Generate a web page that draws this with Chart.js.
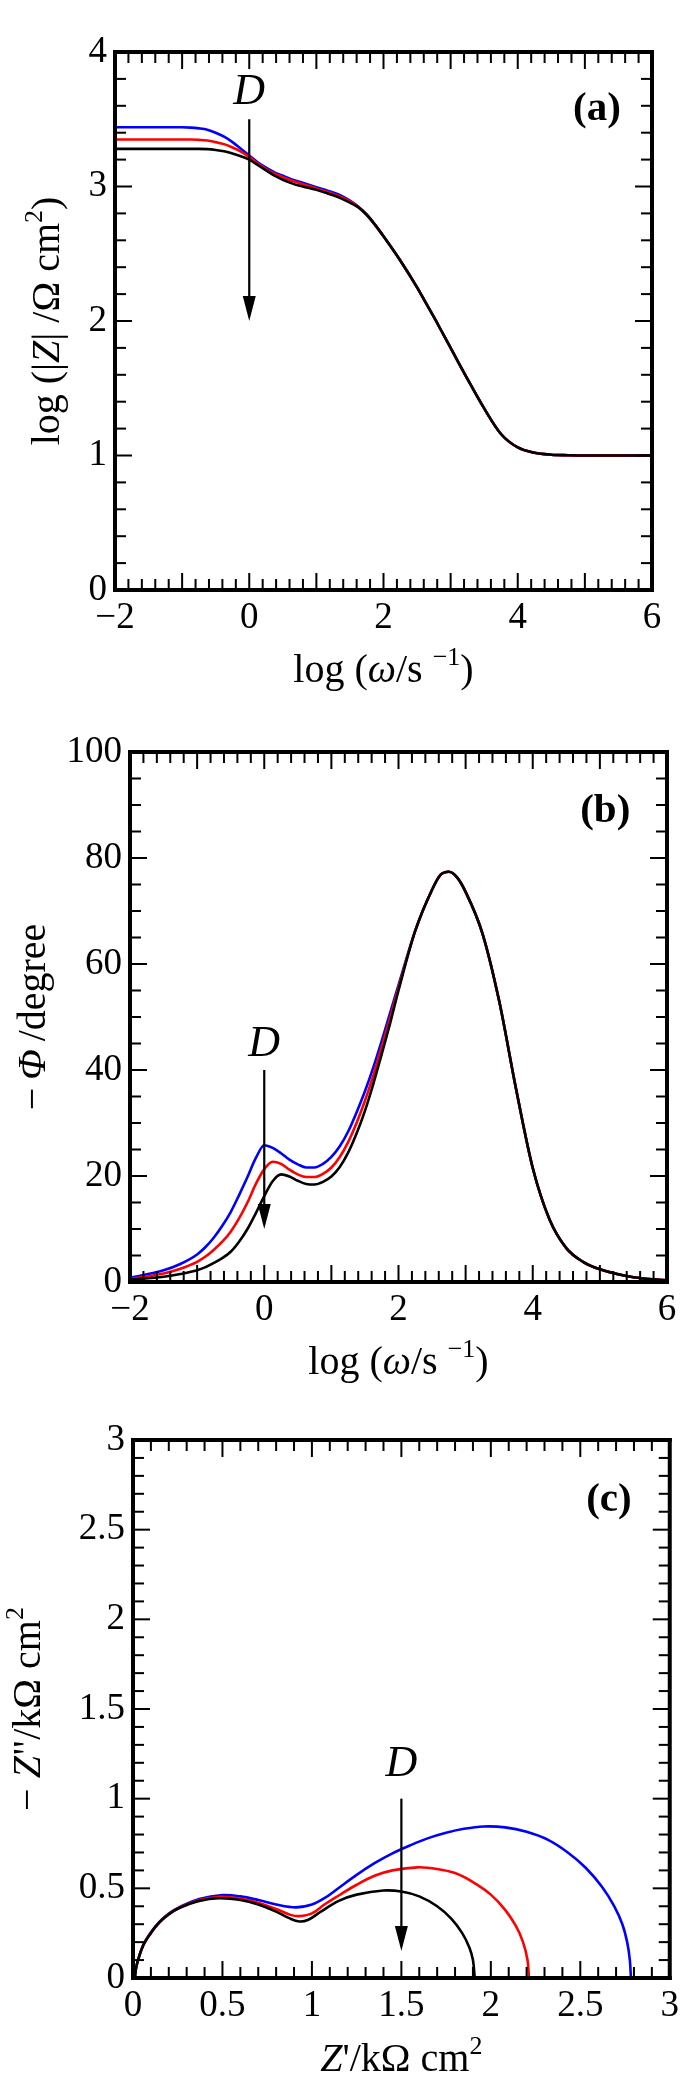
<!DOCTYPE html>
<html>
<head>
<meta charset="utf-8">
<script src="https://cdn.jsdelivr.net/npm/chart.js@4.4.0/dist/chart.umd.min.js"></script>
<style>
html, body { margin: 0; padding: 0; background: #fff; }
#wrap { position: relative; width: 685px; height: 2085px; }
canvas { position: absolute; left: 0; }
</style>
</head>
<body>
<div id="wrap">
<canvas id="chartA" width="685" height="700" style="top:0px"></canvas>
<canvas id="chartB" width="685" height="690" style="top:700px"></canvas>
<canvas id="chartC" width="685" height="695" style="top:1390px"></canvas>
</div>
<script>
// log(omega / s^-1) sampling used by the Bode plots (a) and (b)
const logW = [-2, -1.5, -1.25, -1, -0.875, -0.75, -0.625, -0.5, -0.375, -0.25, -0.125, 0,
              0.125, 0.25, 0.375, 0.5, 0.625, 0.75, 0.875, 1, 1.125, 1.25, 1.375, 1.5, 1.625, 1.75, 1.875,
              2, 2.25, 2.5, 2.625, 2.75, 2.875, 3, 3.25, 3.5, 3.75, 4, 4.25, 4.5, 4.75, 5, 5.5, 6];

// (a) log |Z|
const logZBlue  = [3.44, 3.44, 3.44, 3.44, 3.438, 3.432, 3.422, 3.40, 3.37, 3.33, 3.28, 3.23,
                   3.18, 3.14, 3.105, 3.08, 3.055, 3.035, 3.015, 2.995, 2.975, 2.955, 2.93, 2.895, 2.85, 2.79, 2.715,
                   2.63, 2.45, 2.25, 2.14, 2.03, 1.915, 1.80, 1.57, 1.35, 1.16, 1.06, 1.02, 1.006, 1.002, 1.0, 1.0, 1.0];
const logZRed   = [3.35, 3.35, 3.35, 3.35, 3.35, 3.347, 3.342, 3.33, 3.315, 3.29, 3.26, 3.22,
                   3.17, 3.13, 3.095, 3.07, 3.045, 3.025, 3.005, 2.985, 2.965, 2.945, 2.92, 2.89, 2.85, 2.79, 2.715,
                   2.63, 2.45, 2.25, 2.14, 2.03, 1.915, 1.80, 1.57, 1.35, 1.16, 1.06, 1.02, 1.006, 1.002, 1.0, 1.0, 1.0];
const logZBlack = [3.28, 3.28, 3.28, 3.28, 3.28, 3.28, 3.278, 3.272, 3.262, 3.245, 3.225, 3.20,
                   3.16, 3.12, 3.08, 3.05, 3.025, 3.005, 2.99, 2.975, 2.955, 2.935, 2.91, 2.88, 2.845, 2.79, 2.715,
                   2.63, 2.45, 2.25, 2.14, 2.03, 1.915, 1.80, 1.57, 1.35, 1.16, 1.06, 1.02, 1.006, 1.002, 1.0, 1.0, 1.0];

// (b) -phase, degrees
const phaseBlue  = [0.8, 2.2, 3.4, 5.2, 6.6, 8.4, 10.6, 13.2, 16.4, 19.8, 23.4, 25.8,
                    25.3, 24.3, 23.1, 22.2, 21.6, 21.6, 22.3, 23.6, 25.6, 28.4, 32.0, 36.0, 40.5, 45.5, 50.8,
                    56.0, 66.3, 74.0, 76.8, 77.4, 76.3, 73.6, 65.8, 53.0, 36.5, 21.5, 11.8, 6.4, 3.8, 2.4, 0.9, 0.3];
const phaseRed   = [0.6, 1.6, 2.5, 3.8, 4.8, 6.1, 7.6, 9.5, 12.0, 15.0, 18.5, 21.3,
                    22.7, 22.3, 21.2, 20.3, 19.8, 19.8, 20.4, 21.6, 23.6, 26.4, 30.0, 34.2, 39.0, 44.3, 49.8,
                    55.5, 66.3, 74.0, 76.8, 77.4, 76.3, 73.6, 65.8, 53.0, 36.5, 21.5, 11.8, 6.4, 3.8, 2.4, 0.9, 0.3];
const phaseBlack = [0.4, 1.0, 1.5, 2.2, 2.8, 3.6, 4.5, 5.7, 7.6, 10.0, 13.0, 16.2,
                    19.0, 20.3, 19.9, 19.1, 18.5, 18.4, 18.9, 19.9, 21.7, 24.4, 28.0, 32.3, 37.4, 43.0, 48.8,
                    55.0, 66.3, 74.0, 76.8, 77.4, 76.3, 73.6, 65.8, 53.0, 36.5, 21.5, 11.8, 6.4, 3.8, 2.4, 0.9, 0.3];

// (c) Nyquist, kOhm cm2
const zReBlue  = [0.01, 0.02, 0.056, 0.1, 0.15, 0.2, 0.26, 0.37, 0.5, 0.6, 0.7, 0.8, 0.91, 1.0, 1.07, 1.14,
                  1.25, 1.35, 1.45, 1.55, 1.65, 1.75, 1.85, 1.96, 2.08, 2.2, 2.32, 2.43, 2.53, 2.62, 2.69,
                  2.735, 2.762, 2.777, 2.783];
const zImBlue  = [0, 0.07, 0.18, 0.255, 0.315, 0.36, 0.395, 0.44, 0.462, 0.455, 0.435, 0.41, 0.394, 0.41, 0.445, 0.495,
                  0.575, 0.64, 0.695, 0.74, 0.78, 0.81, 0.832, 0.845, 0.84, 0.815, 0.77, 0.70, 0.615, 0.51, 0.40,
                  0.30, 0.20, 0.10, 0];
const zReRed   = [0.01, 0.02, 0.056, 0.1, 0.15, 0.2, 0.26, 0.37, 0.48, 0.6, 0.7, 0.8, 0.88, 0.93, 1.0, 1.07,
                  1.15, 1.25, 1.35, 1.45, 1.59, 1.7, 1.8, 1.9, 2.0, 2.08, 2.14, 2.18, 2.205, 2.213];
const zImRed   = [0, 0.07, 0.18, 0.252, 0.312, 0.357, 0.392, 0.435, 0.452, 0.442, 0.42, 0.385, 0.352, 0.345, 0.36, 0.41,
                  0.46, 0.52, 0.57, 0.60, 0.617, 0.608, 0.585, 0.535, 0.465, 0.38, 0.29, 0.2, 0.1, 0];
const zReBlack = [0.01, 0.02, 0.056, 0.1, 0.147, 0.2, 0.258, 0.37, 0.48, 0.6, 0.7, 0.8, 0.87, 0.93, 0.98, 1.05,
                  1.15, 1.25, 1.4, 1.5, 1.6, 1.7, 1.78, 1.84, 1.88, 1.9, 1.91];
const zImBlack = [0, 0.07, 0.18, 0.25, 0.31, 0.355, 0.39, 0.43, 0.445, 0.435, 0.41, 0.37, 0.335, 0.315, 0.325, 0.37,
                  0.43, 0.465, 0.488, 0.482, 0.455, 0.40, 0.33, 0.25, 0.17, 0.1, 0];

// tick labels
const bodeXTicks = [-2, 0, 2, 4, 6];
const logZTicks = [0, 1, 2, 3, 4];
const phaseTicks = [0, 20, 40, 60, 80, 100];
const nyqTicks = [0, 0.5, 1, 1.5, 2, 2.5, 3];

const SERIF = '"Liberation Serif", "Times New Roman", serif';
const COLORS = { blue: '#0000ff', red: '#ff0000', black: '#000000' };

function pts(xs, ys) {
  return xs.map((x, i) => ({ x: x, y: ys[i] }));
}
function fmt(v) {
  return v < 0 ? '\u2212' + Math.abs(v) : String(v);
}

// per-panel decoration (titles, minor ticks, arrow, letters)
const panels = {
  chartA: {
    xr: [-2, 6], yr: [0, 4], xMinor: 0.2, xMajor: 1, yMinor: 0.2, yMajor: 1,
    xTitle: [{ t: 'log (' }, { t: 'ω', i: 1 }, { t: '/s ' }, { t: '\u22121', sup: 1 }, { t: ')' }],
    yTitle: [{ t: 'log (|' }, { t: 'Z', i: 1 }, { t: '| /Ω cm' }, { t: '2', sup: 1 }, { t: ')' }],
    xTitleDy: 82, yTitleX: 49,
    arrow: { x: 0, top: 3.5, tip: 2.0 }, dPos: { x: 0, y: 3.70 },
    tag: '(a)', tagPos: { x: 5.18, y: 3.57 }
  },
  chartB: {
    xr: [-2, 6], yr: [0, 100], xMinor: 0.2, xMajor: 1, yMinor: 5, yMajor: 20,
    xTitle: [{ t: 'log (' }, { t: 'ω', i: 1 }, { t: '/s ' }, { t: '\u22121', sup: 1 }, { t: ')' }],
    yTitle: [{ t: '\u2212' }, { t: '\u2009Φ\u2009', i: 1 }, { t: '/degree' }],
    xTitleDy: 82, yTitleX: 35,
    arrow: { x: 0, top: 40, tip: 10 }, dPos: { x: 0, y: 44.9 },
    tag: '(b)', tagPos: { x: 5.08, y: 88.7 }
  },
  chartC: {
    xr: [0, 3], yr: [0, 3], xMinor: 0.1, xMajor: 0.5, yMinor: 0.1, yMajor: 0.5,
    xTitle: [{ t: 'Z', i: 1 }, { t: '\'/kΩ cm' }, { t: '2', sup: 1 }],
    yTitle: [{ t: '\u2212 ' }, { t: 'Z', i: 1 }, { t: '"/kΩ cm' }, { t: '2', sup: 1 }],
    xTitleDy: 83, yTitleX: 30,
    arrow: { x: 1.5, top: 1.0, tip: 0.15 }, dPos: { x: 1.5, y: 1.19 },
    tag: '(c)', tagPos: { x: 2.66, y: 2.665 }
  }
};

function fontFor(s, size) {
  const sz = s.sup ? Math.round(size * 0.65) : size;
  return (s.i ? 'italic ' : '') + (s.b ? 'bold ' : '') + sz + 'px ' + SERIF;
}

function drawRich(ctx, segs, cx, cy, size, vertical) {
  ctx.save();
  ctx.translate(cx, cy);
  if (vertical) ctx.rotate(-Math.PI / 2);
  let w = 0;
  segs.forEach(s => { ctx.font = fontFor(s, size); w += ctx.measureText(s.t).width; });
  let x = -w / 2;
  ctx.textAlign = 'left';
  ctx.textBaseline = 'alphabetic';
  ctx.fillStyle = '#000';
  segs.forEach(s => {
    ctx.font = fontFor(s, size);
    const dy = s.sup ? -size * 0.42 : 0;
    ctx.fillText(s.t, x, size * 0.25 + dy);
    x += ctx.measureText(s.t).width;
  });
  ctx.restore();
}

function isMajor(v, major) {
  const r = v / major;
  return Math.abs(r - Math.round(r)) < 1e-6;
}

const frameTicks = {
  id: 'frameTicks',
  afterDraw(chart) {
    const p = panels[chart.canvas.id];
    const ctx = chart.ctx, a = chart.chartArea;
    const sx = chart.scales.x, sy = chart.scales.y;
    const L = a.left, R = a.right, T = a.top, B = a.bottom;
    ctx.save();
    ctx.fillStyle = '#000';

    // inward ticks on all four sides
    const nx = Math.round((p.xr[1] - p.xr[0]) / p.xMinor);
    for (let i = 0; i <= nx; i++) {
      const v = p.xr[0] + i * p.xMinor;
      const len = isMajor(v, p.xMajor) ? 17 : 11;
      const px = sx.getPixelForValue(v);
      ctx.fillRect(px - 1, B - len, 2, len);
      ctx.fillRect(px - 1, T, 2, len);
    }
    const ny = Math.round((p.yr[1] - p.yr[0]) / p.yMinor);
    for (let i = 0; i <= ny; i++) {
      const v = p.yr[0] + i * p.yMinor;
      const len = isMajor(v, p.yMajor) ? 17 : 11;
      const py = sy.getPixelForValue(v);
      ctx.fillRect(L, py - 1, len, 2);
      ctx.fillRect(R - len, py - 1, len, 2);
    }

    // frame
    ctx.fillRect(L - 2, T - 2, R - L + 4, 4);
    ctx.fillRect(L - 2, B - 2, R - L + 4, 4);
    ctx.fillRect(L - 2, T - 2, 4, B - T + 4);
    ctx.fillRect(R - 2, T - 2, 4, B - T + 4);

    drawRich(ctx, p.xTitle, (L + R) / 2, B + p.xTitleDy, 40, false);
    drawRich(ctx, p.yTitle, p.yTitleX, (T + B) / 2, 40, true);

    // arrow marking increasing D
    const ax = sx.getPixelForValue(p.arrow.x);
    const y1 = sy.getPixelForValue(p.arrow.top);
    const y2 = sy.getPixelForValue(p.arrow.tip);
    ctx.fillRect(ax - 1.1, y1, 2.2, y2 - 20 - y1);
    ctx.beginPath();
    ctx.moveTo(ax, y2);
    ctx.lineTo(ax - 6.5, y2 - 25);
    ctx.lineTo(ax + 6.5, y2 - 25);
    ctx.closePath();
    ctx.fill();

    ctx.textAlign = 'center';
    ctx.textBaseline = 'middle';
    ctx.font = 'italic 44px ' + SERIF;
    ctx.fillText('D', sx.getPixelForValue(p.dPos.x), sy.getPixelForValue(p.dPos.y));
    ctx.font = 'bold 41px ' + SERIF;
    ctx.fillText(p.tag, sx.getPixelForValue(p.tagPos.x), sy.getPixelForValue(p.tagPos.y));
    ctx.restore();
  }
};

function lineSet(data, color, order, smooth) {
  return {
    data: data, borderColor: color, backgroundColor: color, borderWidth: 2.6,
    pointRadius: 0, fill: false, order: order,
    cubicInterpolationMode: smooth ? 'monotone' : 'default', tension: 0.35
  };
}

function makeChart(id, datasets, xTicks, yTicks, pad, xHeight, yWidth) {
  const p = panels[id];
  const tickFont = { family: SERIF, size: 37 };
  return new Chart(document.getElementById(id), {
    type: 'line',
    data: { datasets: datasets },
    options: {
      responsive: false,
      animation: false,
      layout: { padding: pad },
      plugins: { legend: { display: false }, tooltip: { enabled: false } },
      scales: {
        x: {
          type: 'linear', min: p.xr[0], max: p.xr[1],
          grid: { display: false, drawTicks: false },
          border: { display: false },
          afterBuildTicks: s => { s.ticks = xTicks.map(v => ({ value: v })); },
          afterFit: s => { s.height = xHeight; },
          ticks: { font: tickFont, color: '#000', padding: 6, maxRotation: 0, autoSkip: false, callback: v => fmt(v) }
        },
        y: {
          type: 'linear', min: p.yr[0], max: p.yr[1],
          grid: { display: false, drawTicks: false },
          border: { display: false },
          afterBuildTicks: s => { s.ticks = yTicks.map(v => ({ value: v })); },
          afterFit: s => { s.width = yWidth; },
          ticks: { font: tickFont, color: '#000', padding: 8, autoSkip: false, callback: v => fmt(v) }
        }
      }
    },
    plugins: [frameTicks]
  });
}

makeChart('chartA', [
  lineSet(pts(logW, logZBlack), COLORS.black, 0, true),
  lineSet(pts(logW, logZRed), COLORS.red, 1, true),
  lineSet(pts(logW, logZBlue), COLORS.blue, 2, true)
], bodeXTicks, logZTicks, { top: 52, right: 33, left: 0, bottom: 0 }, 110, 115);

makeChart('chartB', [
  lineSet(pts(logW, phaseBlack), COLORS.black, 0, true),
  lineSet(pts(logW, phaseRed), COLORS.red, 1, true),
  lineSet(pts(logW, phaseBlue), COLORS.blue, 2, true)
], bodeXTicks, phaseTicks, { top: 52, right: 18, left: 0, bottom: 0 }, 108, 130);

makeChart('chartC', [
  lineSet(pts(zReBlack, zImBlack), COLORS.black, 0, false),
  lineSet(pts(zReRed, zImRed), COLORS.red, 1, false),
  lineSet(pts(zReBlue, zImBlue), COLORS.blue, 2, false)
], nyqTicks, nyqTicks, { top: 50, right: 12, left: 0, bottom: 0 }, 107, 133);
</script>
</body>
</html>
